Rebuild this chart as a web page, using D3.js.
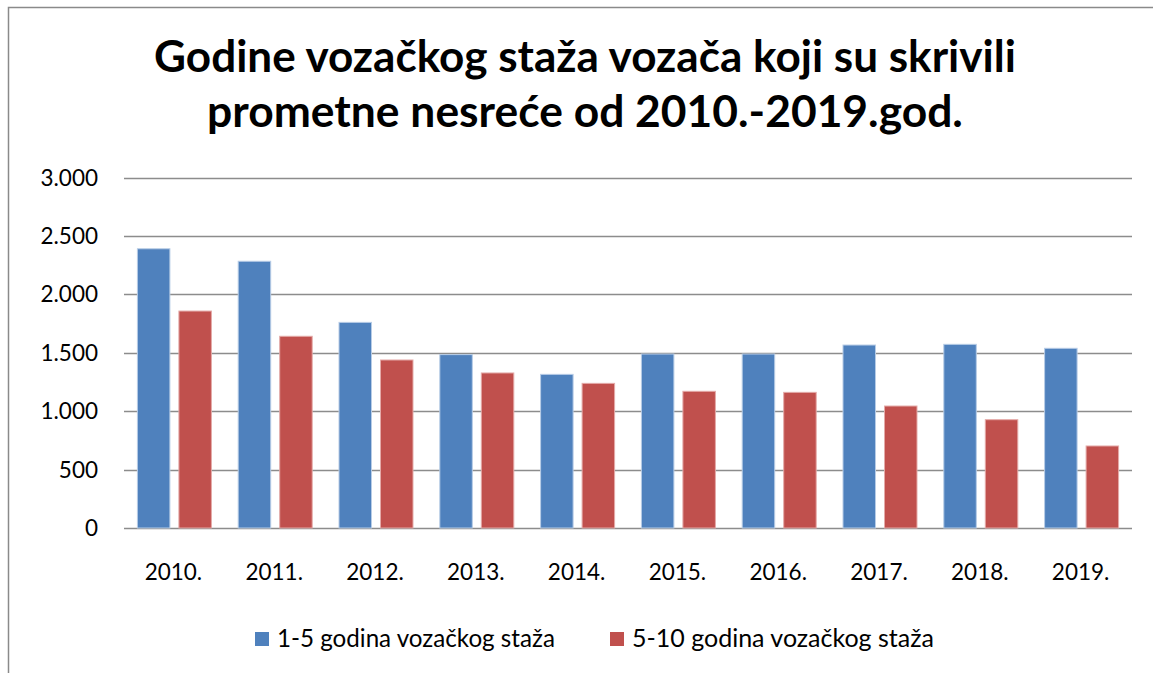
<!DOCTYPE html>
<html>
<head>
<meta charset="utf-8">
<script src="https://cdn.jsdelivr.net/npm/d3@7"></script>
<style>
  body { margin: 0; background: #fff; }
  text { font-family: Lato, "Open Sans", sans-serif; fill: #000; }
</style>
</head>
<body>
<div id="chart"></div>
<script>
// data
var years = ["2010.", "2011.", "2012.", "2013.", "2014.", "2015.", "2016.", "2017.", "2018.", "2019."];
var seriesNames = ["1-5 godina vozačkog staža", "5-10 godina vozačkog staža"];
var staz1do5 = [2390, 2283, 1760, 1484, 1315, 1489, 1489, 1566, 1572, 1538];
var staz5do10 = [1857, 1641, 1438, 1327, 1238, 1170, 1161, 1044, 927, 702];
var yTicks = [0, 500, 1000, 1500, 2000, 2500, 3000];
var titleLines = ["Godine vozačkog staža vozača koji su skrivili", "prometne nesreće od 2010.-2019.god."];

var colors = ["#4F81BD", "#C0504D"];
var strokes = ["#B7CCE6", "#E4AAA8"];

var width = 1153, height = 673;

var svg = d3.select("#chart").append("svg")
    .attr("width", width)
    .attr("height", height);

// chart border
svg.append("rect")
    .attr("x", 8.5).attr("y", 7.5)
    .attr("width", 1200).attr("height", 700)
    .attr("fill", "none")
    .attr("stroke", "#8a8a8a")
    .attr("stroke-width", 1.5);

// fit a text element to a target width
function fitWidth(sel, target) {
    var w = sel.node().getComputedTextLength();
    var fs = parseFloat(sel.style("font-size"));
    sel.style("font-size", (fs * target / w) + "px");
}

// title
var titleWidths = [862, 756];
var titleY = [72, 127];
titleLines.forEach(function(t, i) {
    var tt = svg.append("text")
        .attr("x", 585)
        .attr("y", titleY[i])
        .attr("text-anchor", "middle")
        .style("font-weight", "bold")
        .style("font-size", "38px")
        .text(t);
    fitWidth(tt, titleWidths[i]);
});

// scales
var x = d3.scaleBand()
    .domain(years)
    .range([124, 1132])
    .paddingInner(0.256)
    .paddingOuter(0.128);

var x1 = d3.scaleBand()
    .domain([0, 1])
    .range([0, x.bandwidth()])
    .paddingInner(0.193);

var y = d3.scaleLinear()
    .domain([0, 3000])
    .range([528, 177.5]);

var fmt = d3.formatLocale({ decimal: ",", thousands: ".", grouping: [3], currency: ["", ""] }).format(",d");

// gridlines
svg.append("g")
    .selectAll("line")
    .data(yTicks)
    .enter().append("line")
    .attr("x1", 124).attr("x2", 1132)
    .attr("y1", function(d) { return Math.round(y(d)) + 0.5; })
    .attr("y2", function(d) { return Math.round(y(d)) + 0.5; })
    .attr("stroke", "#8c8c8c")
    .attr("stroke-width", 1.6);

// y labels
svg.append("g")
    .selectAll("text")
    .data(yTicks)
    .enter().append("text")
    .attr("x", 98)
    .attr("y", function(d) { return y(d); })
    .attr("dy", "0.36em")
    .attr("text-anchor", "end")
    .style("font-size", "22.5px")
    .text(function(d) { return fmt(d); });

// bars
var rows = years.map(function(yr, i) { return { year: yr, values: [staz1do5[i], staz5do10[i]] }; });

var groups = svg.selectAll(".grp")
    .data(rows)
    .enter().append("g")
    .attr("class", "grp")
    .attr("transform", function(d) { return "translate(" + x(d.year) + ",0)"; });

groups.selectAll("rect")
    .data(function(d) { return d.values.map(function(v, k) { return { k: k, v: v }; }); })
    .enter().append("rect")
    .attr("x", function(d) { return x1(d.k) + 0.5; })
    .attr("y", function(d) { return y(d.v); })
    .attr("width", x1.bandwidth() - 1)
    .attr("height", function(d) { return y(0) - y(d.v); })
    .attr("fill", function(d) { return colors[d.k]; })
    .attr("stroke", function(d) { return strokes[d.k]; })
    .attr("stroke-width", 1);

// x labels
svg.append("g")
    .selectAll("text")
    .data(years)
    .enter().append("text")
    .attr("x", function(d) { return x(d) + x.bandwidth() / 2 - 1; })
    .attr("y", 579.5)
    .attr("text-anchor", "middle")
    .style("font-size", "22.5px")
    .text(function(d) { return d; });

// legend
var legX = [255, 610];
var legW = [278, 302];
seriesNames.forEach(function(name, i) {
    svg.append("rect")
        .attr("x", legX[i]).attr("y", 632)
        .attr("width", 14).attr("height", 14)
        .attr("fill", colors[i]);
    var lt = svg.append("text")
        .attr("x", legX[i] + 22)
        .attr("y", 646.5)
        .style("font-size", "21px")
        .text(name);
    fitWidth(lt, legW[i]);
});
</script>
</body>
</html>
